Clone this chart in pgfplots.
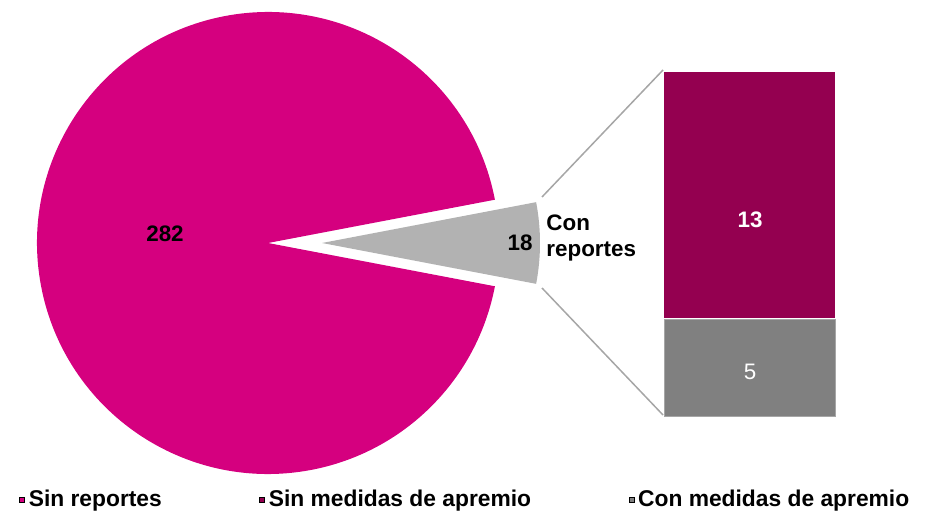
\documentclass[border=0pt]{standalone}
\usepackage{pgfplots}
\pgfplotsset{compat=1.18}
\usepackage{fontspec}
\setmainfont{Liberation Sans}

\definecolor{pieMag}{HTML}{D5007F}
\definecolor{barMag}{HTML}{940050}
\definecolor{pieGray}{HTML}{B2B2B2}
\definecolor{barGray}{HTML}{808080}
\definecolor{leader}{HTML}{A6A6A6}

% pie values and the split of the small slice
\def\sinrep{282}
\def\conrep{18}
\pgfmathsetmacro{\ha}{180*\conrep/(\sinrep+\conrep)}
\pgfmathsetmacro{\hb}{360-\ha}

\begin{document}
\begin{tikzpicture}
% bar of the small slice
\begin{axis}[
    at={(332pt,49pt)}, anchor=south west,
    scale only axis, width=85.5pt, height=173pt,
    xmin=-0.5, xmax=0.5, ymin=0, ymax=18,
    hide axis, clip=false,
    ybar stacked, bar width=85.5pt,
]
\addplot[fill=barGray, draw=leader, line width=0.5pt] coordinates {(0,5)};
\addplot[fill=barMag, draw=white, line width=2pt, bar width=87.5pt] coordinates {(0,13)};
\end{axis}

\begin{axis}[
    x=0.5pt, y=0.5pt,
    xmin=0, xmax=930, ymin=0, ymax=514,
    hide axis, clip=false,
    legend style={at={(axis cs:19,14)}, anchor=west, draw=none, fill=none,
        legend columns=-1, font=\bfseries\fontsize{11.4}{13}\selectfont,
        inner sep=0pt, nodes={inner sep=1.8pt},
        /tikz/every even column/.append style={column sep=47pt}},
    legend image code/.code={\fill[#1] (0pt,-1.25pt) rectangle (2.5pt,1.25pt);},
]
% pie
\fill[pieMag] (axis cs:268,271) -- ++(\ha:115.5pt)
    arc[start angle=\ha, end angle=\hb, radius=115.5pt] -- cycle;
\fill[pieGray] (axis cs:322,271) -- ++(-\ha:109pt)
    arc[start angle=-\ha, end angle=\ha, radius=109pt] -- cycle;
% leader lines
\draw[leader, line width=0.75pt] (axis cs:542,317) -- (axis cs:663,444);
\draw[leader, line width=0.75pt] (axis cs:542,226) -- (axis cs:663,99);
% labels
\node[font=\bfseries\fontsize{11.2}{13}\selectfont] at (axis cs:165,280) {\sinrep};
\node[font=\bfseries\fontsize{11.2}{13}\selectfont, anchor=east, inner sep=0pt] at (axis cs:533,271) {\conrep};
\node[font=\bfseries\fontsize{11.2}{13}\selectfont, anchor=west, align=left, inner sep=0pt] at (axis cs:546,276) {Con\\reportes};
\node[text=white, font=\fontsize{11.2}{13}\selectfont] at (axis cs:750,142) {5};
\node[text=white, font=\bfseries\fontsize{11.2}{13}\selectfont] at (axis cs:750,294) {13};
\addlegendimage{fill=pieMag}
\addlegendentry{Sin reportes}
\addlegendimage{fill=barMag}
\addlegendentry{Sin medidas de apremio}
\addlegendimage{fill=barGray}
\addlegendentry{Con medidas de apremio}
\end{axis}
\pgfresetboundingbox
\path (0,0) rectangle (465pt,257pt);
\end{tikzpicture}
\end{document}
